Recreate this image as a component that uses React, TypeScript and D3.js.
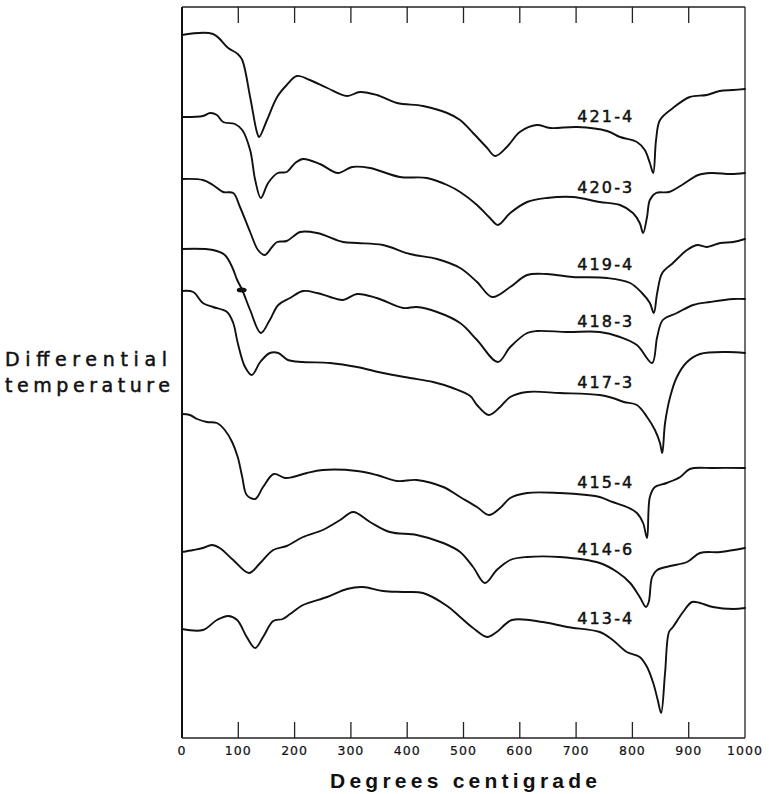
import React from "react";
import * as d3 from "d3";

// Degrees centigrade (x) vs. differential temperature deflection (arbitrary units, y)
const s421_4: [number, number][] = [
  [0, 703], [55, 704], [82, 690], [99, 684], [107, 678], [121, 641], [133, 606], [137, 601],
  [151, 618], [169, 641], [186, 653], [204, 662], [227, 658], [258, 650], [293, 642], [316, 646],
  [346, 643], [382, 635], [428, 632], [471, 625], [494, 618], [517, 605], [542, 590], [556, 582],
  [577, 591], [600, 606], [630, 613], [654, 610], [702, 611], [755, 607], [778, 601], [808, 596],
  [822, 588], [831, 575], [837, 565], [842, 598], [849, 618], [872, 630], [902, 641], [932, 643],
  [955, 647], [979, 648], [1000, 649],
];
const s420_3: [number, number][] = [
  [0, 621], [37, 622], [50, 625], [62, 623], [73, 616], [94, 614], [107, 608], [121, 588],
  [130, 558], [140, 540], [153, 555], [170, 565], [186, 566], [201, 575], [215, 579], [245, 574],
  [277, 565], [302, 571], [334, 570], [387, 561], [435, 560], [471, 553], [494, 546], [524, 533],
  [547, 520], [561, 513], [583, 525], [613, 536], [648, 540], [694, 541], [742, 536], [778, 533],
  [801, 525], [813, 515], [819, 505], [826, 521], [831, 538], [842, 545], [865, 546], [888, 553],
  [917, 563], [940, 565], [975, 564], [1000, 565],
];
const s419_4: [number, number][] = [
  [0, 559], [37, 558], [55, 553], [73, 546], [91, 545], [103, 531], [121, 506], [135, 488],
  [147, 483], [160, 491], [169, 496], [186, 497], [210, 506], [240, 505], [286, 496], [311, 495],
  [357, 493], [405, 484], [453, 479], [494, 470], [524, 456], [551, 441], [583, 451], [613, 463],
  [648, 464], [694, 461], [755, 460], [796, 455], [817, 445], [831, 435], [838, 425], [844, 445],
  [853, 465], [872, 475], [897, 488], [915, 493], [932, 491], [956, 495], [979, 496], [1000, 499],
];
const s418_3: [number, number][] = [
  [0, 489], [55, 488], [76, 483], [89, 471], [98, 458], [107, 448], [121, 428], [140, 405],
  [156, 418], [171, 433], [192, 440], [215, 447], [240, 445], [263, 441], [286, 438], [311, 444],
  [346, 440], [393, 430], [417, 431], [453, 426], [494, 415], [524, 398], [561, 376], [583, 391],
  [613, 405], [631, 407], [684, 406], [742, 406], [778, 401], [808, 393], [835, 375], [844, 401],
  [854, 418], [879, 425], [908, 433], [938, 436], [979, 439], [1000, 439],
];
const s417_3: [number, number][] = [
  [0, 447], [20, 446], [37, 435], [55, 431], [80, 426], [91, 415], [99, 395], [112, 371],
  [124, 363], [139, 376], [156, 385], [171, 385], [188, 378], [215, 376], [263, 375], [311, 371],
  [357, 365], [405, 360], [446, 356], [481, 350], [512, 342], [524, 333], [545, 323], [565, 331],
  [583, 341], [613, 346], [671, 345], [742, 343], [765, 340], [785, 336], [808, 333], [826, 321],
  [840, 308], [849, 295], [853, 285], [858, 315], [867, 341], [879, 361], [897, 376], [920, 384],
  [968, 386], [1000, 385],
];
const s415_4: [number, number][] = [
  [0, 324], [14, 323], [27, 319], [44, 316], [62, 315], [76, 308], [89, 296], [99, 281],
  [107, 261], [115, 243], [130, 239], [144, 251], [163, 264], [183, 260], [197, 261], [222, 265],
  [250, 268], [311, 267], [346, 263], [382, 257], [417, 258], [464, 251], [494, 241], [524, 231],
  [545, 223], [565, 230], [583, 240], [613, 245], [671, 245], [719, 243], [742, 241], [765, 236],
  [790, 231], [808, 225], [819, 215], [826, 200], [831, 241], [840, 251], [861, 255], [885, 261],
  [902, 269], [943, 270], [1000, 270],
];
const s414_6: [number, number][] = [
  [0, 186], [20, 188], [37, 190], [53, 193], [67, 190], [91, 178], [119, 165], [139, 175],
  [162, 188], [186, 192], [215, 201], [250, 208], [281, 218], [304, 226], [334, 216], [369, 206],
  [417, 203], [464, 195], [494, 186], [517, 171], [538, 155], [559, 168], [583, 178], [613, 181],
  [671, 181], [742, 175], [773, 166], [796, 155], [813, 141], [824, 131], [829, 136], [835, 161],
  [844, 168], [867, 172], [897, 176], [920, 185], [956, 186], [1000, 190],
];
const s413_4: [number, number][] = [
  [0, 109], [37, 108], [62, 118], [82, 122], [98, 118], [115, 101], [130, 90], [144, 101],
  [162, 117], [179, 119], [192, 124], [215, 133], [258, 141], [293, 149], [321, 151], [357, 147],
  [393, 146], [428, 145], [471, 132], [494, 121], [517, 110], [542, 101], [559, 106], [586, 118],
  [641, 116], [684, 111], [742, 106], [765, 98], [790, 86], [813, 81], [826, 71], [837, 55],
  [845, 38], [851, 25], [858, 65], [865, 106], [872, 111], [890, 126], [906, 136], [920, 135],
  [943, 131], [979, 129], [1000, 130],
];

const sampleNames = ["421-4", "420-3", "419-4", "418-3", "417-3", "415-4", "414-6", "413-4"];
const seriesList = [s421_4, s420_3, s419_4, s418_3, s417_3, s415_4, s414_6, s413_4];
const xTicks = [0, 100, 200, 300, 400, 500, 600, 700, 800, 900, 1000];
const xTitle = "Degrees centigrade";
const yTitle = ["Differential", "temperature"];
// ink blot on curve 418-3 near 106 °C
const blots: [number, number][] = [[106, 448]];

// layout (label baselines, in deflection units)
const labelY = [616, 545, 468, 411, 350, 250, 183, 114];
const labelX = 702;

const W = 769;
const H = 794;
const x = d3.scaleLinear().domain([0, 1000]).range([182, 745]);
const y = d3.scaleLinear().domain([0, 731]).range([738, 7]);

const line = d3
  .line<[number, number]>()
  .x((d) => x(d[0]))
  .y((d) => y(d[1]))
  .curve(d3.curveCatmullRom.alpha(0.5));

const FONT = "'DejaVu Sans', 'Liberation Sans', sans-serif";
const BFONT = "'Liberation Sans', Arial, sans-serif";

export default function App() {
  const left = x(0);
  const right = x(1000);
  const top = y(731);
  const bottom = y(0);
  return (
    <svg
      width={W}
      height={H}
      viewBox={`0 0 ${W} ${H}`}
      style={{ position: "absolute", left: 0, top: 0, background: "#fff" }}
    >
      <rect x={0} y={0} width={W} height={H} fill="#fff" />
      {/* frame */}
      <line x1={left} y1={top} x2={left} y2={bottom} stroke="#111" strokeWidth={2} />
      <line x1={left} y1={top} x2={right} y2={top} stroke="#222" strokeWidth={1.3} />
      <line x1={right} y1={top} x2={right} y2={bottom} stroke="#222" strokeWidth={1.3} />
      <line x1={left} y1={bottom} x2={right} y2={bottom} stroke="#222" strokeWidth={1.3} />
      {xTicks.slice(1, -1).map((t) => (
        <g key={t}>
          <line x1={x(t)} x2={x(t)} y1={bottom} y2={bottom - 16} stroke="#222" strokeWidth={1.3} />
          <line x1={x(t)} x2={x(t)} y1={top} y2={top + 16} stroke="#222" strokeWidth={1.3} />
        </g>
      ))}
      {xTicks.map((t) => (
        <text
          key={"l" + t}
          x={x(t)}
          y={755}
          textAnchor="middle"
          fontFamily={FONT}
          fontSize={12.5}
          letterSpacing={1}
          fill="#111"
          stroke="#111"
          strokeWidth={0.2}
        >
          {t}
        </text>
      ))}
      {/* curves */}
      {seriesList.map((s, i) => (
        <path
          key={sampleNames[i]}
          d={line(s) || ""}
          fill="none"
          stroke="#111"
          strokeWidth={1.9}
          strokeLinejoin="round"
          strokeLinecap="round"
        />
      ))}
      {blots.map((b, i) => (
        <ellipse key={"b" + i} cx={x(b[0])} cy={y(b[1])} rx={5} ry={2.5} fill="#111" />
      ))}
      {sampleNames.map((n, i) => (
        <text
          key={"n" + n}
          x={x(labelX)}
          y={y(labelY[i])}
          fontFamily={FONT}
          fontSize={16}
          textLength={55}
          lengthAdjust="spacing"
          fill="#111"
          stroke="#111"
          strokeWidth={0.5}
        >
          {n}
        </text>
      ))}
      {/* axis titles */}
      <text
        x={330}
        y={788}
        fontFamily={BFONT}
        fontWeight="bold"
        fontSize={21}
        textLength={267}
        lengthAdjust="spacing"
        fill="#111"
      >
        {xTitle}
      </text>
      <text
        x={5}
        y={366}
        fontFamily={FONT}
        fontSize={19}
        textLength={162}
        lengthAdjust="spacing"
        fill="#111"
        stroke="#111"
        strokeWidth={0.5}
      >
        {yTitle[0]}
      </text>
      <text
        x={5}
        y={392}
        fontFamily={FONT}
        fontSize={19}
        textLength={165}
        lengthAdjust="spacing"
        fill="#111"
        stroke="#111"
        strokeWidth={0.5}
      >
        {yTitle[1]}
      </text>
    </svg>
  );
}
